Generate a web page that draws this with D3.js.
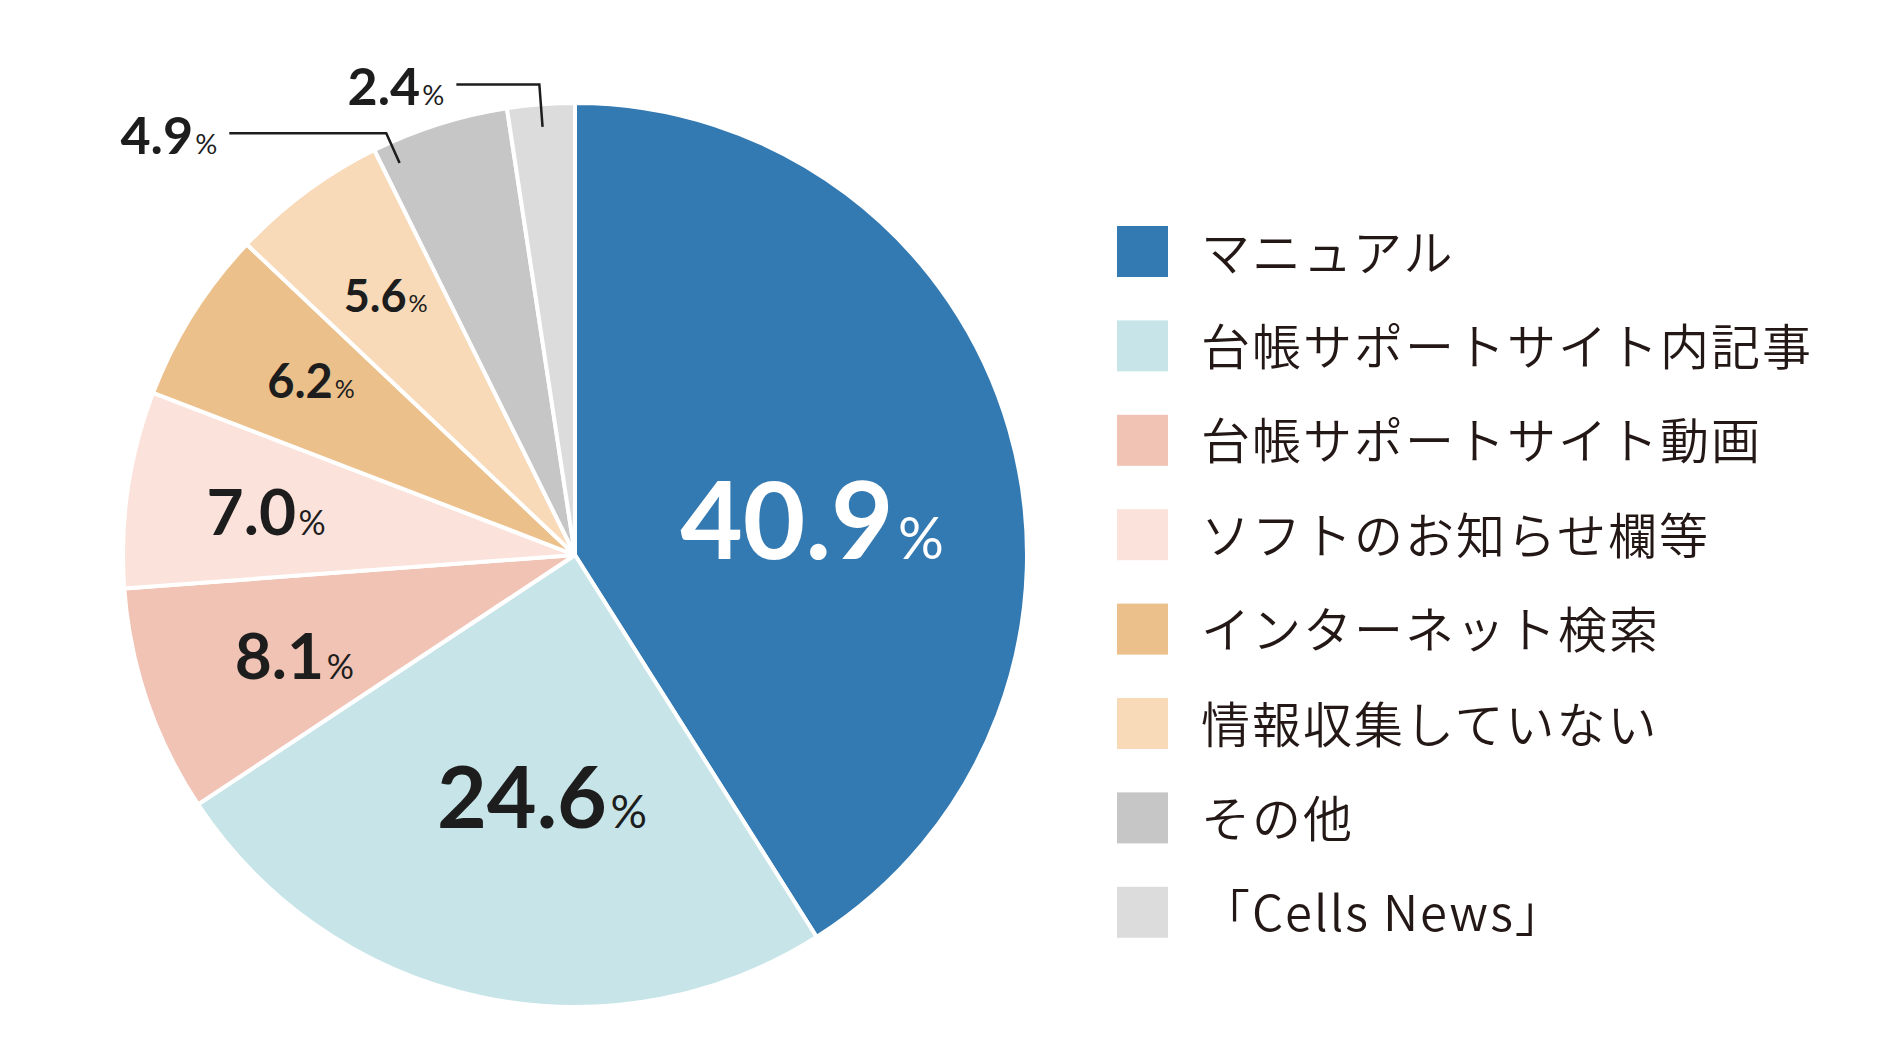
<!DOCTYPE html>
<html lang="ja">
  <head>
    <meta charset="utf-8">
    <title>情報収集の方法</title>
    <style>
      body {
        margin: 0;
        background: #fff;
      }
      svg {
        display: block;
      }
      .legend text {
        font-family: "Noto Sans CJK JP", sans-serif;
        font-weight: 350;
        font-size: 49px;
        letter-spacing: 2px;
        fill: #231815;
      }
      .num {
        font-family: Lato, sans-serif;
        font-weight: 700;
      }
      .pct {
        font-family: Lato, sans-serif;
        font-weight: 400;
      }
    </style>
    <script src="https://d3js.org/d3.v7.min.js"></script>
  </head>
  <body>
    <div class="viz"></div>
    <script>

    // data
    const categories = ["マニュアル", "台帳サポートサイト内記事", "台帳サポートサイト動画", "ソフトのお知らせ欄等",
                        "インターネット検索", "情報収集していない", "その他", "「Cells News」"]
    const values = [40.9, 24.6, 8.1, 7.0, 6.2, 5.6, 4.9, 2.4]
    const colors = ["#3379b2", "#c7e5e8", "#f0c3b4", "#fbe2db", "#ebc08b", "#f8d9b8", "#c6c6c6", "#dcdcdc"]

    // label placement (angle nudge in degrees, radius as fraction of R, font size)
    const labelLayout = [
      {nudge: 7.8, r: 0.53, size: 108, fill: "#fff"},
      {nudge: -4.3, r: 0.54, size: 86},
      {nudge: -0.9, r: 0.66, size: 64},
      {nudge: -0.4, r: 0.69, size: 64},
      {nudge: 1.2, r: 0.70, size: 47},
      {nudge: 0.3, r: 0.71, size: 45},
      {nudge: -6.6, outside: true, elbow: 1.022, run: 157, size: 52},
      {nudge: 0, outside: true, elbow: 1.044, run: 83, size: 52}
    ]

    const width = 1903, height = 1057
    const cx = 575, cy = 555, R = 452

    const svg = d3.select(".viz")
      .append("svg")
      .attr("width", width)
      .attr("height", height)

    const g = svg.append("g")
      .attr("transform", `translate(${cx},${cy})`)

    const pie = d3.pie().sort(null).value(d => d)
    const arcs = pie(values)

    const arc = d3.arc().innerRadius(0).outerRadius(R)

    g.selectAll("path")
      .data(arcs)
      .join("path")
      .attr("d", arc)
      .attr("fill", (d, i) => colors[i])
      .attr("stroke", "#fff")
      .attr("stroke-width", 4)
      .attr("stroke-linejoin", "round")

    const polar = (ang, r) => [r * Math.sin(ang), -r * Math.cos(ang)]
    const rad = Math.PI / 180

    arcs.forEach((d, i) => {
      const L = labelLayout[i]
      const ang = (d.startAngle + d.endAngle) / 2 + L.nudge * rad
      let x, y, anchor = "middle"
      if (L.outside) {
        const p0 = polar(ang, R * 0.95)
        const p1 = polar(ang, R * L.elbow)
        const p2 = [p1[0] - L.run, p1[1]]
        g.append("polyline")
          .attr("points", [p0, p1, p2].map(p => p.join(",")).join(" "))
          .attr("fill", "none")
          .attr("stroke", "#1d1d1d")
          .attr("stroke-width", 2.5)
        x = p2[0] - 12
        y = p2[1] + L.size * 0.36 + 2
        anchor = "end"
      } else {
        const p = polar(ang, R * L.r)
        x = p[0]
        y = p[1] + L.size * 0.36
      }
      const t = g.append("text")
        .attr("x", x)
        .attr("y", y)
        .attr("text-anchor", anchor)
        .attr("fill", L.fill || "#1d1d1d")
      t.append("tspan").attr("class", "num").style("font-size", L.size + "px").text(d.data.toFixed(1))
      t.append("tspan").attr("class", "pct").attr("dx", L.size * 0.04).style("font-size", (L.size * 0.53) + "px").text("%")
    })

    // legend
    const legend = svg.append("g")
      .attr("class", "legend")
      .attr("transform", "translate(1117,226)")

    const row = d3.scaleBand()
      .domain(categories)
      .range([0, 94.4 * categories.length])

    const item = legend.selectAll("g")
      .data(categories)
      .join("g")
      .attr("transform", d => `translate(0,${row(d)})`)

    item.append("rect")
      .attr("width", 51)
      .attr("height", 51)
      .attr("fill", (d, i) => colors[i])

    item.append("text")
      .attr("x", 84)
      .attr("y", 23)
      .attr("dominant-baseline", "central")
      .text(d => d)

    </script>
  </body>
</html>
